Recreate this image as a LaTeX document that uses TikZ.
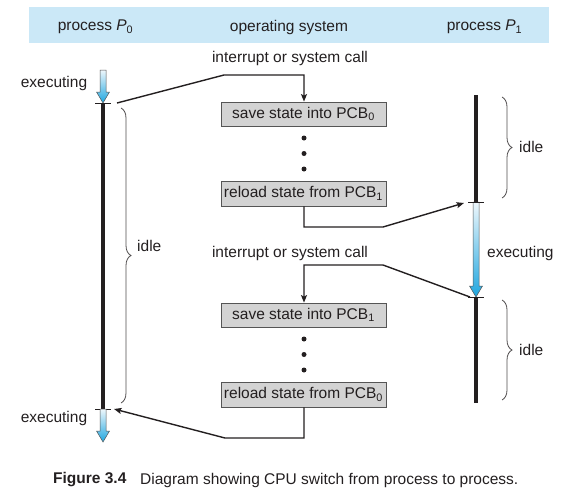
\documentclass[tikz,border=0pt]{standalone}
\usepackage{fontspec}
\setmainfont{Liberation Sans}
\usetikzlibrary{decorations.pathreplacing,arrows.meta}
\definecolor{hdr}{HTML}{CBE8F7}
\definecolor{boxfill}{HTML}{D3D3D3}
\definecolor{boxline}{HTML}{555555}
\definecolor{ink}{HTML}{231F20}
\definecolor{arrtop}{HTML}{EEF7FC}
\definecolor{arrbot}{HTML}{1FA6DF}
\newcommand\gradarrow[3]{%
  \shade[garr] (#1-3,#2) -- (#1+3,#2) -- (#1+3,#3-11) -- (#1+6.5,#3-11) -- (#1,#3)
    -- (#1-6.5,#3-11) -- (#1-3,#3-11) -- cycle;}
\tikzset{
  lbl/.style={inner sep=0pt, text=ink},
  pcb/.style={draw=boxline, line width=0.8pt, fill=boxfill, inner sep=0pt,
    minimum width=165pt, text=ink},
  timeline/.style={ink, line width=4pt},
  tick/.style={ink, line width=0.7pt},
  conn/.style={ink, line width=1.4pt, -{Stealth[length=7.5pt,width=6pt,inset=1.5pt]}},
  idlebrace/.style={draw=ink!80, line width=0.8pt,
    decorate, decoration={brace, amplitude=10pt, aspect=0.5}},
  garr/.style={top color=arrtop, bottom color=arrbot, draw=boxline, line width=0.5pt},
  dot/.style={circle, fill=ink, inner sep=0pt, minimum size=5pt}
}
\begin{document}
\begin{tikzpicture}[x=1pt, y=-1pt, font=\fontsize{15.5}{18}\selectfont]
\useasboundingbox (0,0) rectangle (578,496);

% header band
\node[fill=hdr, minimum width=520pt, minimum height=36pt, inner sep=0pt] (band) at (289,25) {};
\node[lbl] (hp0) at (95.5,27) {process \textit{P}\textsubscript{0}};
\node[lbl] (hos) at (289,27) {operating system};
\node[lbl] (hp1) at (484.5,27) {process \textit{P}\textsubscript{1}};

% timeline coordinates
\coordinate (p0top) at (103,103);
\coordinate (p0bot) at (103,409);
\coordinate (p1a) at (476,95);
\coordinate (p1b) at (476,202);
\coordinate (p1c) at (476,297);
\coordinate (p1d) at (476,403);

% P0 timeline
\gradarrow{103}{70}{103}
\draw[timeline] (p0top) -- (p0bot);
\draw[tick] ([xshift=-8pt]p0top) -- ([xshift=8pt]p0top);
\draw[tick] ([xshift=-8pt]p0bot) -- ([xshift=8pt]p0bot);
\gradarrow{103}{409}{442}

% P1 timeline
\draw[timeline] (p1a) -- (p1b);
\gradarrow{476}{202}{297}
\draw[timeline] (p1c) -- (p1d);
\draw[tick] ([xshift=-8pt]p1b) -- ([xshift=8pt]p1b);
\draw[tick] ([xshift=-8pt]p1c) -- ([xshift=8pt]p1c);

% labels on timelines
\node[lbl] (ex1) at (54,83) {executing};
\node[lbl] (ex2) at (54,418) {executing};
\node[lbl, anchor=west] (ex3) at (487,253) {executing};

% braces
\draw[idlebrace] (121,108) -- (121,403);
\node[lbl, anchor=west] (idle0) at (137,246) {idle};
\draw[idlebrace] (502,97) -- (502,198);
\node[lbl, anchor=west] (idle1) at (519,147) {idle};
\draw[idlebrace] (502,300) -- (502,400);
\node[lbl, anchor=west] (idle2) at (519,350) {idle};

% OS column
\node[lbl] (int1) at (290,58) {interrupt or system call};
\node[pcb, minimum height=24pt] (b1) at (303.5,114) {save state into PCB\textsubscript{0}};
\node[dot] (d1) at (304,138) {};
\node[dot] (d2) at (304,153.5) {};
\node[dot] (d3) at (304,169) {};
\node[pcb, minimum height=25pt] (b2) at (303.5,193.5) {reload state from PCB\textsubscript{1}};

\node[lbl] (int2) at (290,253) {interrupt or system call};
\node[pcb, minimum height=24pt] (b3) at (303.5,315) {save state into PCB\textsubscript{1}};
\node[dot] (d4) at (304,339) {};
\node[dot] (d5) at (304,354.5) {};
\node[dot] (d6) at (304,370) {};
\node[pcb, minimum height=25pt] (b4) at (303.5,394.5) {reload state from PCB\textsubscript{0}};

% connectors
\coordinate (c1s) at (117,103);
\coordinate (c1a) at (224,75);
\coordinate (c1b) at (304,75);
\draw[conn] (c1s) -- (c1a) -- (c1b) -- (c1b |- b1.north);

\coordinate (c2a) at (304,227);
\coordinate (c2b) at (383,227);
\coordinate (c2e) at (464,203);
\draw[conn] (c2a |- b2.south) -- (c2a) -- (c2b) -- (c2e);

\coordinate (c3s) at (470,297);
\coordinate (c3a) at (383,265);
\coordinate (c3b) at (304,265);
\draw[conn] (c3s) -- (c3a) -- (c3b) -- (c3b |- b3.north);

\coordinate (c4a) at (304,438);
\coordinate (c4b) at (225,438);
\coordinate (c4e) at (114,409);
\draw[conn] (c4a |- b4.south) -- (c4a) -- (c4b) -- (c4e);

% caption
\node[lbl, anchor=west] (fig) at (53,480) {\textbf{Figure 3.4}};
\node[lbl, anchor=west] (cap) at (140,480) {Diagram showing CPU switch from process to process.};
\end{tikzpicture}
\end{document}
